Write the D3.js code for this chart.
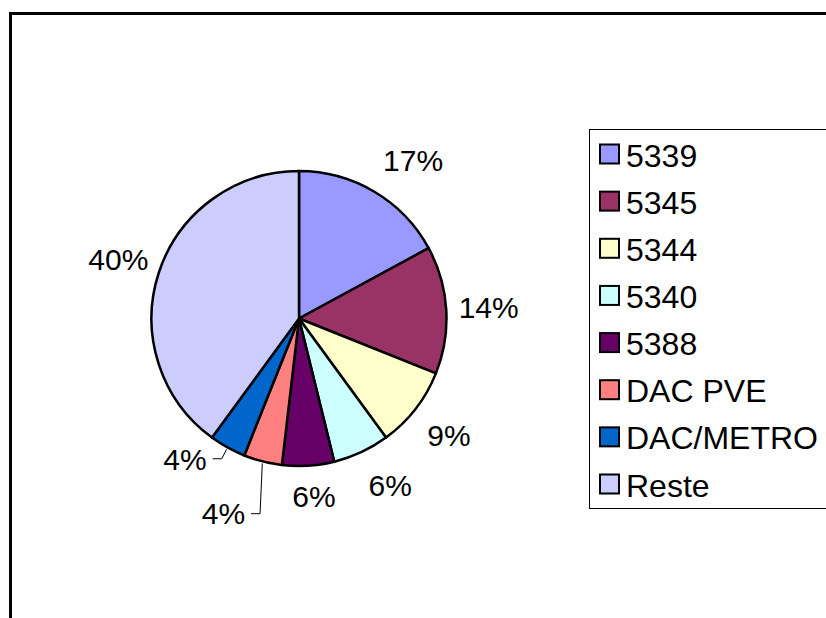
<!DOCTYPE html>
<html>
<head>
<meta charset="utf-8">
<script src="https://cdn.jsdelivr.net/npm/d3@7"></script>
<style>
  body { margin: 0; background: #fff; }
  text { font-family: Arial, "Liberation Sans", sans-serif; fill: #000; }
</style>
</head>
<body>
<div id="content"></div>
<script>
// datas
const categories = ["5339", "5345", "5344", "5340", "5388", "DAC PVE", "DAC/METRO", "Reste"];
const shares = [17.1, 14.0, 8.9, 6.2, 5.7, 4.2, 4.0, 40.0];
const colors = ["#9999ff", "#993366", "#ffffcc", "#ccffff", "#660066", "#ff8080", "#0066cc", "#ccccff"];

// label nudges (labels moved by hand in the original), leader flag
const labelNudge = [[17, 5], [0, 0], [0, 0], [11, -6], [3, -12], [-29, 11], [-22, -26], [0, 0]];
const leader = [false, false, false, false, false, true, true, false];

// view
const w = 826;
const h = 618;
const cx = 299, cy = 318.5, r = 147.5;

const svg = d3.select("#content")
            .append("svg")
            .attr("width", w)
            .attr("height", h);

// chart frame
svg.append("rect")
   .attr("x", 10.5)
   .attr("y", 13.5)
   .attr("width", 900)
   .attr("height", 700)
   .attr("fill", "#fff")
   .attr("stroke", "#000")
   .attr("stroke-width", 3);

const total = d3.sum(shares);
const pie = d3.pie().sort(null).value(d => d);
const arcs = pie(shares);
const arc = d3.arc().innerRadius(0).outerRadius(r);

const g = svg.append("g").attr("transform", `translate(${cx},${cy})`);

// slices
g.selectAll("path")
   .data(arcs)
   .enter()
   .append("path")
   .attr("d", arc)
   .attr("fill", (d, i) => colors[i])
   .attr("stroke", "#000")
   .attr("stroke-width", 2.5)
   .attr("stroke-linejoin", "round");

// labels
const labelArc = d3.arc().innerRadius(190).outerRadius(190);
const fs = 30;
const lab = arcs.map((d, i) => {
  const c = labelArc.centroid(d);
  const txt = Math.round(d.value / total * 100) + "%";
  return { x: c[0] + labelNudge[i][0], y: c[1] + labelNudge[i][1], txt: txt, i: i, d: d };
});

g.selectAll("text.pct")
   .data(lab)
   .enter()
   .append("text")
   .attr("class", "pct")
   .attr("x", d => d.x)
   .attr("y", d => d.y + fs * 0.36)
   .attr("text-anchor", "middle")
   .attr("font-size", fs)
   .text(d => d.txt);

// leader lines
const edgeArc = d3.arc().innerRadius(r + 2).outerRadius(r + 2);
g.selectAll("polyline")
   .data(lab.filter(d => leader[d.i]))
   .enter()
   .append("polyline")
   .attr("points", d => {
     const p0 = edgeArc.centroid(d.d);
     const tw = d.txt.length === 2 ? 0.5 * (0.556 + 0.889) * fs : 0.5 * (1.112 + 0.889) * fs;
     const x2 = d.x + tw + 6;
     return [p0, [x2 + 9, d.y], [x2, d.y]].map(p => p.join(",")).join(" ");
   })
   .attr("fill", "none")
   .attr("stroke", "#000")
   .attr("stroke-width", 1);

// legend
svg.append("rect")
   .attr("x", 589.5)
   .attr("y", 129.5)
   .attr("width", 300)
   .attr("height", 379)
   .attr("fill", "#fff")
   .attr("stroke", "#000")
   .attr("stroke-width", 1);

const ly = d3.scalePoint().domain(categories).range([155, 485]);

const items = svg.selectAll("g.item")
   .data(categories)
   .enter()
   .append("g")
   .attr("class", "item")
   .attr("transform", d => `translate(0,${ly(d)})`);

items.append("rect")
   .attr("x", 600)
   .attr("y", -10.5)
   .attr("width", 19)
   .attr("height", 19)
   .attr("fill", (d, i) => colors[i])
   .attr("stroke", "#000")
   .attr("stroke-width", 2);

items.append("text")
   .attr("x", 626)
   .attr("y", 11.5)
   .attr("font-size", 32)
   .text(d => d);
</script>
</body>
</html>
